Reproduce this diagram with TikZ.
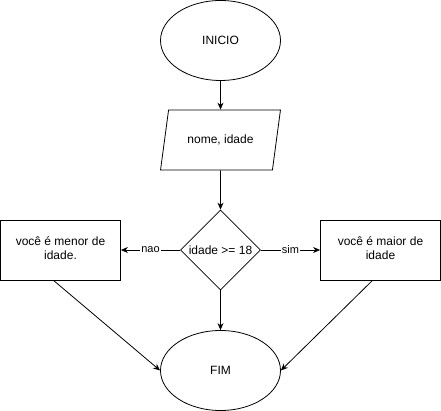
\documentclass[tikz,border=0pt]{standalone}
\usepackage{fontspec}
\setmainfont{Liberation Sans}
\usetikzlibrary{shapes.geometric,arrows.meta}

% two centred lines
\newcommand{\twolines}[2]{\begin{tabular}{@{}c@{}}#1\\#2\end{tabular}}

\begin{document}
\begin{tikzpicture}
  [x=1pt,y=-1pt
  ,font=\fontsize{12}{14}\selectfont
  ,line width=0.8pt
  ,terminal/.style={draw,ellipse,minimum width=120pt,minimum height=80pt,inner sep=0pt}
  ,inout/.style={draw,trapezium,trapezium left angle=71.57,trapezium right angle=108.43
    ,trapezium stretches=true,minimum width=120pt,minimum height=60pt}
  ,decision/.style={draw,diamond,minimum width=80pt,minimum height=80pt,inner sep=0pt}
  ,process/.style={draw,rectangle,minimum width=120pt,minimum height=60pt,inner sep=0pt}
  ,flow/.style={-{Stealth[length=7pt,width=6pt]}}
  ,answer/.style={fill=white,inner sep=1pt,font=\fontsize{11}{13}\selectfont}
  ]

  % page
  \useasboundingbox (0,0) rectangle (441,411);

  % start and input
  \node[terminal] (inicio) at (220.5,40.5) {INICIO};
  \node[inout] (dados) at (220.5,140) {nome, idade};

  % test
  \node[decision,label=center:{idade >= 18}] (teste) at (220.5,250) {};

  % the two answers
  \node[process] (menor) at (60.5,250) {\twolines{você é menor de}{idade.}};
  \node[process] (maior) at (380.5,250) {\twolines{você é maior de}{idade}};

  % end
  \node[terminal] (fim) at (220.5,370.5) {FIM};

  % connectors
  \draw[flow] (inicio) -- (dados);
  \draw[flow] (dados) -- (teste);
  \draw[flow] (teste) -- node[answer] {nao} (menor);
  \draw[flow] (teste) -- node[answer] {sim} (maior);
  \draw[flow] (teste) -- (fim);
  \draw[flow] ([xshift=-7pt]menor.south) -- (fim.west);
  \draw[flow] ([xshift=-8pt]maior.south) -- (fim.east);

\end{tikzpicture}
\end{document}
